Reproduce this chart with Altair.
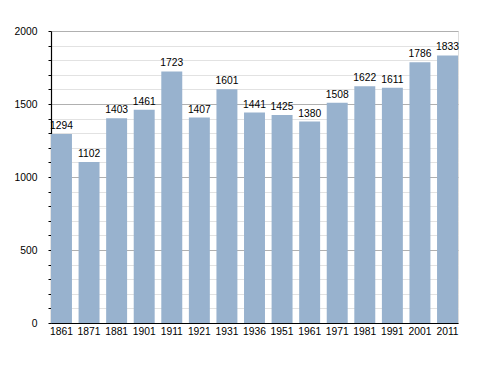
import altair as alt
import pandas as pd

years = ["1861", "1871", "1881", "1901", "1911", "1921", "1931", "1936",
         "1951", "1961", "1971", "1981", "1991", "2001", "2011"]
population = [1294, 1102, 1403, 1461, 1723, 1407, 1601, 1441,
              1425, 1380, 1508, 1622, 1611, 1786, 1833]
y_ticks = list(range(0, 2001, 100))

df = pd.DataFrame({"year": years, "pop": population})

FONT = "Liberation Sans"
FS = 10.3

x = alt.X("year:N", sort=years, title=None,
          scale=alt.Scale(paddingInner=0.24, paddingOuter=0),
          axis=alt.Axis(labelAngle=0, ticks=False, labelPadding=3,
                        labelFontSize=FS, labelColor="#000", labelFont=FONT,
                        domainColor="#000", domainWidth=1.2))
y = alt.Y("pop:Q", title=None,
          scale=alt.Scale(domain=[0, 2000], nice=False),
          axis=alt.Axis(values=y_ticks,
                        format="d",
                        labelExpr="datum.value % 500 === 0 ? datum.label : ''",
                        labelOverlap=False, labelFlush=False,
                        labelFontSize=FS, labelColor="#000", labelFont=FONT,
                        labelPadding=11,
                        domainColor="#000", domainWidth=1.2,
                        tickColor="#000", tickSize=3,
                        grid=True,
                        gridColor={"condition": {"test": "datum.value % 500 === 0", "value": "#b0b0b0"}, "value": "#e2e2e2"},
                        gridWidth=1))

base = alt.Chart(df).encode(x=x, y=y)
bars = base.mark_bar(color="#98B2CE")
labels = base.mark_text(dy=-8, fontSize=FS, font=FONT, color="#000").encode(text="pop:Q")

chart = alt.layer(bars, labels).properties(
    width=407, height=292,
    autosize=alt.AutoSizeParams(type="none"),
    padding={"left": 43, "top": 23, "right": 10, "bottom": 30},
).configure_view(stroke=None).configure(background="#ffffff")

chart.save("out.html", embed_options={"renderer": "svg", "actions": False})
